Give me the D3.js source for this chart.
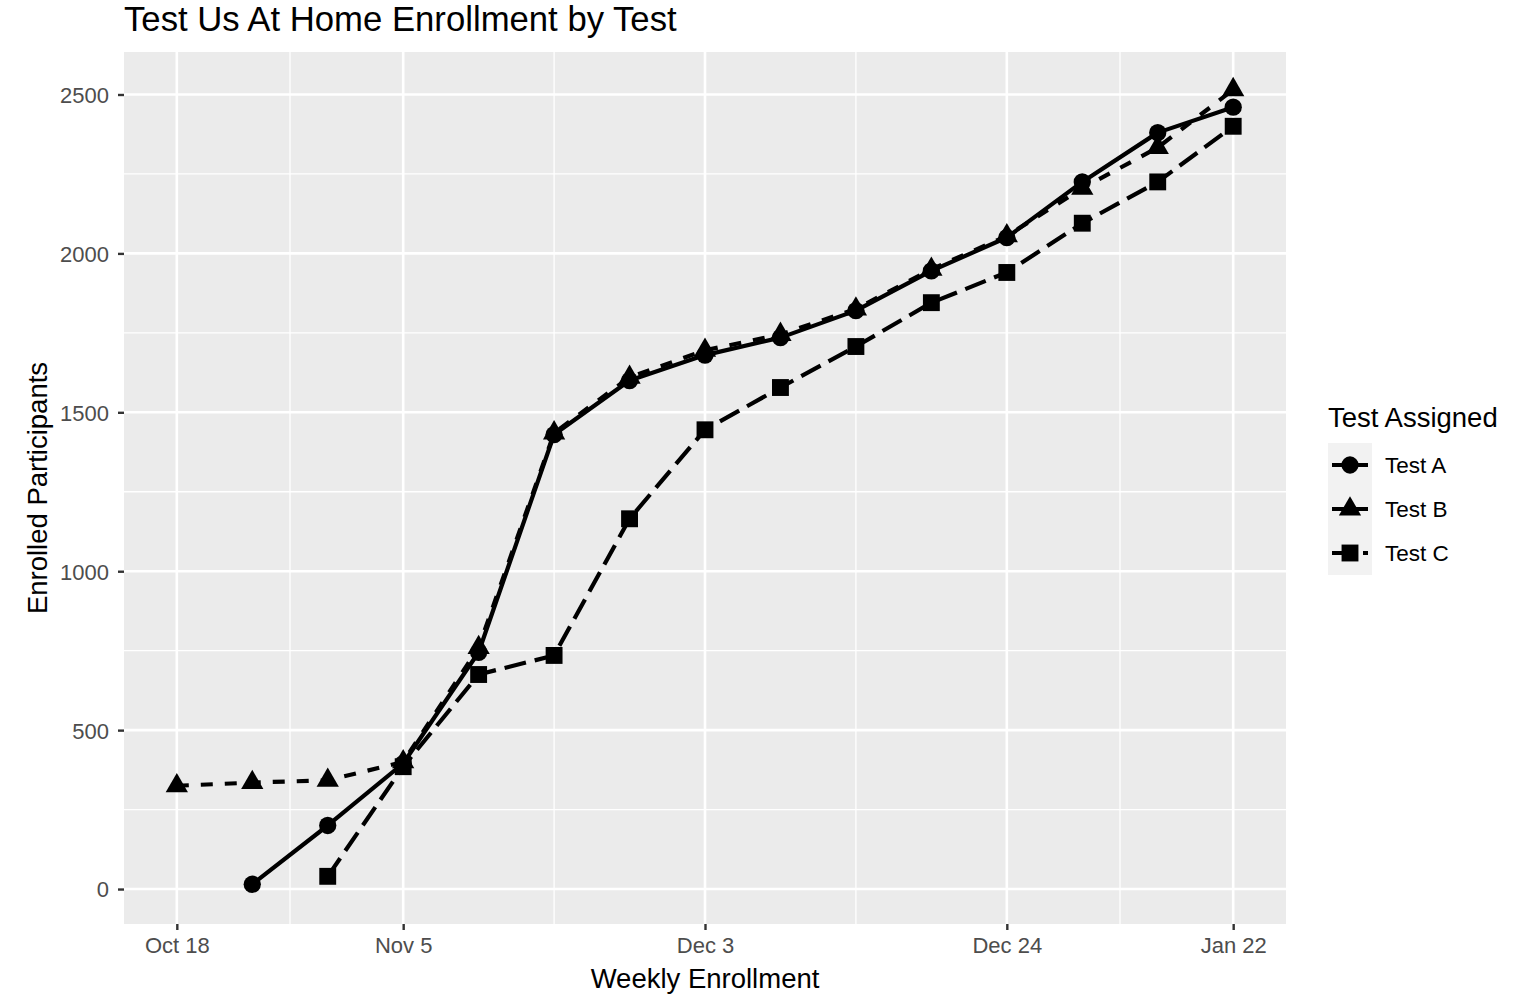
<!DOCTYPE html>
<html>
<head>
<meta charset="utf-8">
<script src="https://cdn.jsdelivr.net/npm/d3@7"></script>
<style>
  html, body { margin: 0; padding: 0; background: #ffffff; }
  svg { display: block; }
  text { font-family: "Liberation Sans", Arial, sans-serif; }
</style>
</head>
<body>
<svg id="chart" width="1532" height="996"></svg>
<script>
// ---- data ----
const weeks = [1, 2, 3, 4, 5, 6, 7, 8, 9, 10, 11, 12, 13, 14, 15];
const testA = [null, 15, 200, 395, 745, 1430, 1600, 1680, 1735, 1820, 1945, 2050, 2225, 2380, 2460];
const testB = [325, 335, 342, 400, 760, 1435, 1610, 1695, 1745, 1825, 1950, 2055, 2205, 2333, 2515];
const testC = [null, null, 40, 385, 675, 735, 1165, 1445, 1578, 1707, 1845, 1940, 2095, 2225, 2400];
const seriesNames = ["Test A", "Test B", "Test C"];
const xTickWeeks = [1, 4, 8, 12, 15];
const xTickLabels = ["Oct 18", "Nov 5", "Dec 3", "Dec 24", "Jan 22"];
const xMinorWeeks = [2.5, 6, 10, 13.5];
const yTicks = [0, 500, 1000, 1500, 2000, 2500];
const yMinor = [250, 750, 1250, 1750, 2250];

const svg = d3.select("#chart");
const panel = { left: 124, right: 1286, top: 52, bottom: 924 };

const allVals = [...testA, ...testB, ...testC].filter(v => v != null);
const yMin = d3.min(allVals), yMax = d3.max(allVals);
const yPad = (yMax - yMin) * 0.05;
const xPad = (d3.max(weeks) - d3.min(weeks)) * 0.05;

const x = d3.scaleLinear().domain([d3.min(weeks) - xPad, d3.max(weeks) + xPad]).range([panel.left, panel.right]);
const y = d3.scaleLinear().domain([yMin - yPad, yMax + yPad]).range([panel.bottom, panel.top - 2]);

// panel background
svg.append("rect")
  .attr("x", panel.left).attr("y", panel.top)
  .attr("width", panel.right - panel.left).attr("height", panel.bottom - panel.top)
  .attr("fill", "#EBEBEB");

const grid = svg.append("g");
grid.selectAll(".ym").data(yMinor).join("line")
  .attr("x1", panel.left).attr("x2", panel.right)
  .attr("y1", d => y(d)).attr("y2", d => y(d))
  .attr("stroke", "#fff").attr("stroke-width", 1.3);
grid.selectAll(".xm").data(xMinorWeeks).join("line")
  .attr("y1", panel.top).attr("y2", panel.bottom)
  .attr("x1", d => x(d)).attr("x2", d => x(d))
  .attr("stroke", "#fff").attr("stroke-width", 1.3);
grid.selectAll(".yM").data(yTicks).join("line")
  .attr("x1", panel.left).attr("x2", panel.right)
  .attr("y1", d => y(d)).attr("y2", d => y(d))
  .attr("stroke", "#fff").attr("stroke-width", 2.6);
grid.selectAll(".xM").data(xTickWeeks).join("line")
  .attr("y1", panel.top).attr("y2", panel.bottom)
  .attr("x1", d => x(d)).attr("x2", d => x(d))
  .attr("stroke", "#fff").attr("stroke-width", 2.6);

// axes
const yAxis = d3.axisLeft(y).tickValues(yTicks).tickSize(6).tickPadding(9).tickFormat(d3.format("d"));
const gy = svg.append("g").attr("transform", `translate(${panel.left},0)`).call(yAxis);
gy.select(".domain").remove();
gy.selectAll(".tick line").attr("stroke", "#333333").attr("stroke-width", 2.4);
gy.selectAll(".tick text").attr("fill", "#4D4D4D").attr("font-size", 22)
  .attr("font-family", "Liberation Sans, Arial, sans-serif").attr("dy", "0.36em");

const xAxis = d3.axisBottom(x).tickValues(xTickWeeks).tickSize(6).tickPadding(7)
  .tickFormat((d, i) => xTickLabels[i]);
const gx = svg.append("g").attr("transform", `translate(0,${panel.bottom})`).call(xAxis);
gx.select(".domain").remove();
gx.selectAll(".tick line").attr("stroke", "#333333").attr("stroke-width", 2.4);
gx.selectAll(".tick text").attr("fill", "#4D4D4D").attr("font-size", 22)
  .attr("font-family", "Liberation Sans, Arial, sans-serif").attr("dy", "0.71em");

// series
const series = [
  { name: seriesNames[0], values: testA, dash: null, symbol: d3.symbolCircle, size: 235 },
  { name: seriesNames[1], values: testB, dash: "12,12", symbol: d3.symbolTriangle, size: 215 },
  { name: seriesNames[2], values: testC, dash: "22,9", symbol: d3.symbolSquare, size: 285 }
];
series.forEach(s => {
  s.points = weeks.map((w, i) => ({ w, v: s.values[i] })).filter(p => p.v != null);
});

const line = d3.line().x(p => x(p.w)).y(p => y(p.v));
const lines = svg.append("g");
series.forEach(s => {
  lines.append("path")
    .attr("d", line(s.points))
    .attr("fill", "none")
    .attr("stroke", "#000")
    .attr("stroke-width", 4.2)
    .attr("stroke-dasharray", s.dash)
    .attr("stroke-linejoin", "round");
});
const pts = svg.append("g");
series.forEach(s => {
  pts.selectAll(null).data(s.points).join("path")
    .attr("transform", p => `translate(${x(p.w)},${y(p.v)})`)
    .attr("d", d3.symbol().type(s.symbol).size(s.size))
    .attr("fill", "#000");
});

// titles
svg.append("text").attr("x", 124).attr("y", 31).attr("font-size", 34.7).attr("fill", "#000")
  .text("Test Us At Home Enrollment by Test");
svg.append("text").attr("x", (panel.left + panel.right) / 2).attr("y", 988)
  .attr("text-anchor", "middle").attr("font-size", 27.5).attr("fill", "#000")
  .text("Weekly Enrollment");
svg.append("text")
  .attr("transform", `translate(47,${(panel.top + panel.bottom) / 2}) rotate(-90)`)
  .attr("text-anchor", "middle").attr("font-size", 27.5).attr("fill", "#000")
  .text("Enrolled Participants");

// legend
const lg = svg.append("g");
lg.append("text").attr("x", 1328).attr("y", 427).attr("font-size", 27.5).attr("fill", "#000")
  .text("Test Assigned");
const keyX = 1328, keyY = 443, keyW = 44, keyH = 44;
series.forEach((s, i) => {
  const ky = keyY + i * keyH;
  lg.append("rect").attr("x", keyX).attr("y", ky).attr("width", keyW).attr("height", keyH).attr("fill", "#F2F2F2");
  lg.append("line").attr("x1", keyX + 4).attr("x2", keyX + keyW - 4)
    .attr("y1", ky + keyH / 2).attr("y2", ky + keyH / 2)
    .attr("stroke", "#000").attr("stroke-width", 4.2).attr("stroke-dasharray", s.dash);
  lg.append("path").attr("transform", `translate(${keyX + keyW / 2},${ky + keyH / 2})`)
    .attr("d", d3.symbol().type(s.symbol).size(s.size)).attr("fill", "#000");
  lg.append("text").attr("x", 1385).attr("y", ky + keyH / 2 + 8).attr("font-size", 22.5).attr("fill", "#000")
    .text(s.name);
});
</script>
</body>
</html>
